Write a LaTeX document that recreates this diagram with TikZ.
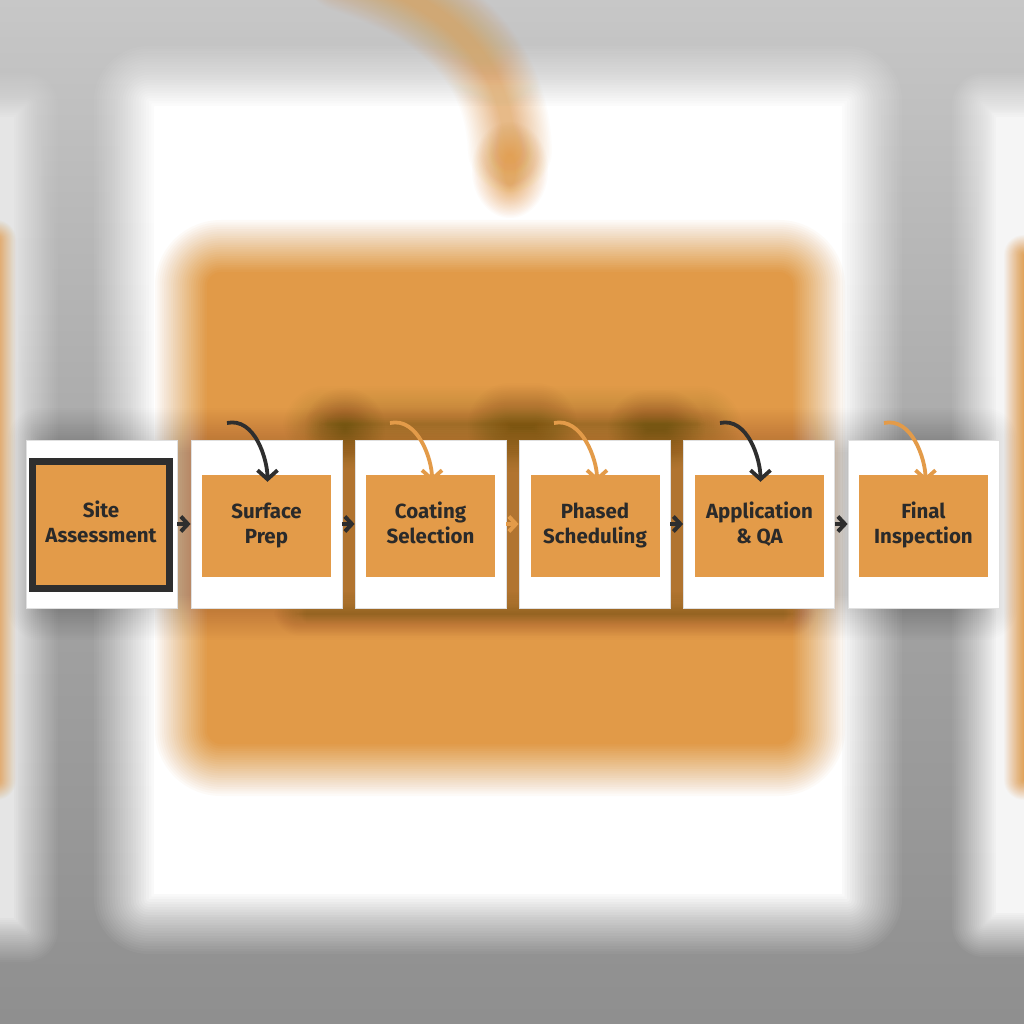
\documentclass[tikz,border=0pt]{standalone}
\usepackage{fontspec}
\setmainfont{Fira Sans}
\usetikzlibrary{arrows.meta}
\definecolor{org}{HTML}{E39B49}
\definecolor{borg}{HTML}{E19A48}
\definecolor{dk}{HTML}{2E2E2E}
\definecolor{txt}{HTML}{2A2A2A}
\definecolor{smudge}{HTML}{3A2510}
% blurred rounded rectangle: colour, x1, y1, x2, y2, blur radius, corner, peak opacity
\newcommand{\myblur}[8]{%
  \foreach \k in {1,...,24}{%
    \pgfmathsetmacro\off{#6*(1-2*(\k-1)/23)}%
    \pgfmathsetmacro\rc{max(#7+\off,0.5)}%
    \pgfmathsetmacro\op{1-(1-#8*\k/24)/(1-#8*(\k-1)/24)}%
    \fill[#1, fill opacity=\op, rounded corners=\rc pt]
      ({#2-(\off)},{#3-(\off)}) rectangle ({#4+(\off)},{#5+(\off)});
  }%
}
% blurred ellipse: colour, cx, cy, rx, ry, blur radius, peak opacity
\newcommand{\myblurell}[7]{%
  \foreach \k in {1,...,24}{%
    \pgfmathsetmacro\off{#6*(1-2*(\k-1)/23)}%
    \pgfmathsetmacro\op{1-(1-#7*\k/24)/(1-#7*(\k-1)/24)}%
    \fill[#1, fill opacity=\op] (#2,#3) ellipse ({#4+(\off)} and {#5+(\off)});
  }%
}
% blurred stroke: colour, width, blur radius, peak opacity, path
\newcommand{\myblurline}[5]{%
  \foreach \k in {1,...,24}{%
    \pgfmathsetmacro\w{#2+2*#3*(1-2*(\k-1)/23)}%
    \pgfmathsetmacro\op{1-(1-#4*\k/24)/(1-#4*(\k-1)/24)}%
    \draw[#1, draw opacity=\op, line width=\w pt, line cap=round] #5;
  }%
}
\tikzset{
  card/.style={draw=black!12, line width=0.8pt, fill=white, minimum width=151pt, minimum height=168pt, inner sep=0pt},
  inner/.style={fill=org, minimum width=129pt, minimum height=102pt, inner sep=0pt, text=txt,
     font=\bfseries\fontsize{20.5}{24.5}\selectfont, align=center},
  firstbox/.style={fill=org, draw=dk, line width=7pt, minimum width=137pt, minimum height=127pt, inner sep=0pt,
     text=txt, font=\bfseries\fontsize{20.5}{24.5}\selectfont, align=center},
  flow/.style={line width=4.5pt, -{Straight Barb[length=7pt,width=15pt,line width=4pt]}},
  loop/.style={line width=3.8pt, -{Straight Barb[length=9pt,width=20pt,line width=3.8pt]}},
}
\begin{document}
\begin{tikzpicture}[x=1pt,y=-1pt]
\useasboundingbox (0,0) rectangle (1024,1024);
% ---------- blurred background ----------
\shade[top color=black!22, bottom color=black!44, middle color=black!35] (0,0) rectangle (1024,1024);
\myblur{black!22}{-60}{-60}{1084}{50}{25}{0}{0.8}
\myblur{black!10}{-80}{95}{36}{940}{22}{10}{1}
\myblur{black!4}{974}{95}{1110}{935}{22}{10}{1}
\myblur{white}{124}{76}{872}{924}{30}{25}{1}
% orange slivers at the far edges
\myblur{borg}{-40}{230}{6}{790}{10}{10}{0.9}
\myblur{borg}{1014}{245}{1060}{790}{10}{10}{0.9}
% big orange panel
\myblur{borg}{181}{246}{819}{770}{26}{40}{1}
% blurred curved arrow at the top
\myblurline{borg}{48}{18}{0.6}{(345,-30) .. controls (450,5) and (506,60) .. (510,150)}
\myblurell{borg}{510}{170}{22}{32}{16}{0.75}
% shadow of the row of cards
\myblur{black}{30}{430}{995}{618}{22}{10}{0.18}
\myblur{smudge}{305}{408}{720}{440}{22}{20}{0.22}
\myblur{smudge}{325}{408}{365}{450}{20}{20}{0.3}
\myblur{smudge}{490}{405}{555}{450}{22}{20}{0.26}
\myblur{smudge}{628}{410}{685}{450}{20}{20}{0.3}
\myblur{smudge}{290}{608}{800}{620}{16}{10}{0.24}
% ---------- cards ----------
\node[card] (c1) at (101.5,524) {};
\node[card] (c2) at (266.5,524) {};
\node[card] (c3) at (430.5,524) {};
\node[card] (c4) at (594.5,524) {};
\node[card] (c5) at (759,524) {};
\node[card] (c6) at (923.5,524) {};
\node[firstbox] (b1) at (101,525) {\strut Site\\Assessment\strut};
\node[inner] (b2) at (266.5,526) {\strut Surface\\Prep\strut};
\node[inner] (b3) at (430.5,526) {\strut Coating\\Selection\strut};
\node[inner] (b4) at (595,526) {\strut Phased\\Scheduling\strut};
\node[inner] (b5) at (759.5,526) {\strut Application\\\&~QA\strut};
\node[inner] (b6) at (923.5,526) {\strut Final\\Inspection\strut};
% ---------- flow arrows ----------
\draw[flow, dk] (c1.east) -- (c2.west);
\draw[flow, dk] (c2.east) -- (c3.west);
\draw[flow, org] (c3.east) -- (c4.west);
\draw[flow, dk] (c4.east) -- (c5.west);
\draw[flow, dk] (c5.east) -- (c6.west);
% ---------- curved arrows ----------
\coordinate (s2) at (227,423);
\coordinate (s3) at (390,423);
\coordinate (s4) at (554,423);
\coordinate (s5) at (720,423);
\coordinate (s6) at (884,423);
\draw[loop, dk]  (s2) .. controls +(28,-6) and +(0,-22) .. ([xshift=1pt,yshift=-7pt]b2.north);
\draw[loop, org] (s3) .. controls +(28,-6) and +(0,-22) .. ([xshift=1.5pt,yshift=-7pt]b3.north);
\draw[loop, org] (s4) .. controls +(28,-6) and +(0,-22) .. ([xshift=2pt,yshift=-7pt]b4.north);
\draw[loop, dk]  (s5) .. controls +(28,-6) and +(0,-22) .. ([xshift=1pt,yshift=-7pt]b5.north);
\draw[loop, org] (s6) .. controls +(28,-6) and +(0,-22) .. ([xshift=2pt,yshift=-7pt]b6.north);
\end{tikzpicture}
\end{document}
